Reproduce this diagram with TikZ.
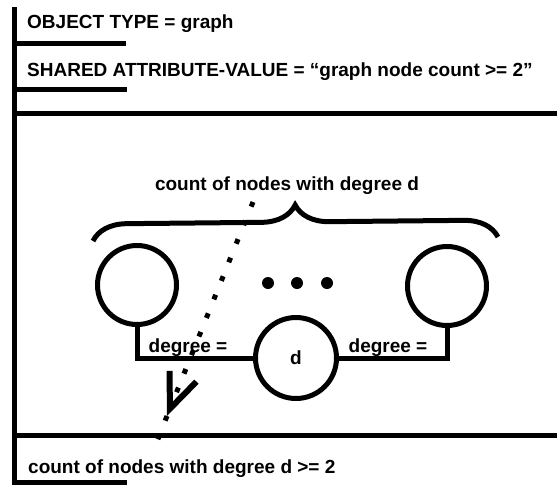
\documentclass[tikz,border=0pt]{standalone}
\usepackage{fontspec}
\setmainfont{Liberation Sans}
\usepackage{tikz}
\usetikzlibrary{arrows.meta,positioning,decorations.pathreplacing,calc}
\tikzset{
  ogtext/.style={font=\fontsize{19}{23}\selectfont\bfseries,inner sep=0pt},
  ogframe/.style={line width=5pt},
  ognode/.style={
    circle, draw=black, fill=white, line width=5pt,
    inner sep=0pt, font=\fontsize{19}{23}\selectfont\bfseries
  },
  ogdot/.style={circle,fill=black,minimum size=12pt,inner sep=0pt},
  ogedge/.style={line width=5pt},
  ogbrace/.style={decorate,decoration={brace,amplitude=34pt},line width=5pt},
  ogdotted/.style={line width=5pt,dash pattern=on 5pt off 15pt},
  ogpointer/.style={ogdotted,-{Straight Barb[length=35pt,width=29pt,line width=6pt]}}
}

\begin{document}
\begin{tikzpicture}[x=1pt,y=-1pt]
\useasboundingbox (0,0) rectangle (557,485);
% Frame: left rail and the section rules
\draw[ogframe] (14,7) -- (14,485);
\draw[ogframe] (14,43) -- (126,43);
\draw[ogframe] (14,89) -- (127,89);
\draw[ogframe] (14,113) -- (557,113);
\draw[ogframe] (14,435) -- (557,435);
\draw[ogframe] (14,482) -- (127,482);

% Header and footer texts
\node[ogtext,anchor=base west] (objtype) at (27,28) {OBJECT TYPE = graph};
\node[ogtext,anchor=base west] (shared) at (27,76) {SHARED ATTRIBUTE-VALUE = “graph node count >= 2”};
\node[ogtext,anchor=base west] (countge) at (28,473) {count of nodes with degree d >= 2};

% Middle: graph nodes grouped by the brace
\node[ogtext,anchor=base] (countlbl) at (287,190) {count of nodes with degree d};
\coordinate (brl) at (93,241);
\coordinate (brr) at (498,237);
\draw[ogbrace] (brl) -- (brr);
\node[ognode,minimum size=79pt] (nleft) at (137,285) {};
\node[ognode,minimum size=79pt] (nright) at (447,286) {};
\node[ognode,minimum size=81pt] (nd) at (296,358) {d};
\foreach \i/\x in {1/268,2/297,3/327}
  \node[ogdot] (dot\i) at (\x,283) {};
\draw[ogedge] (nleft.south) |- (nd.west);
\draw[ogedge] (nright.south) |- (nd.east);
\node[ogtext,anchor=base] (degl) at (188,352) {degree =};
\node[ogtext,anchor=base] (degr) at (388,352) {degree =};

% Dotted pointer down to the footer
\coordinate (ptrtop) at (253,202);
\coordinate (ptrtip) at (167,416);
\coordinate (ptrend) at (156,444);
\draw[ogpointer] (ptrtop) -- (ptrtip);
\draw[ogdotted] (ptrtip) -- (ptrend);
\end{tikzpicture}
\end{document}
